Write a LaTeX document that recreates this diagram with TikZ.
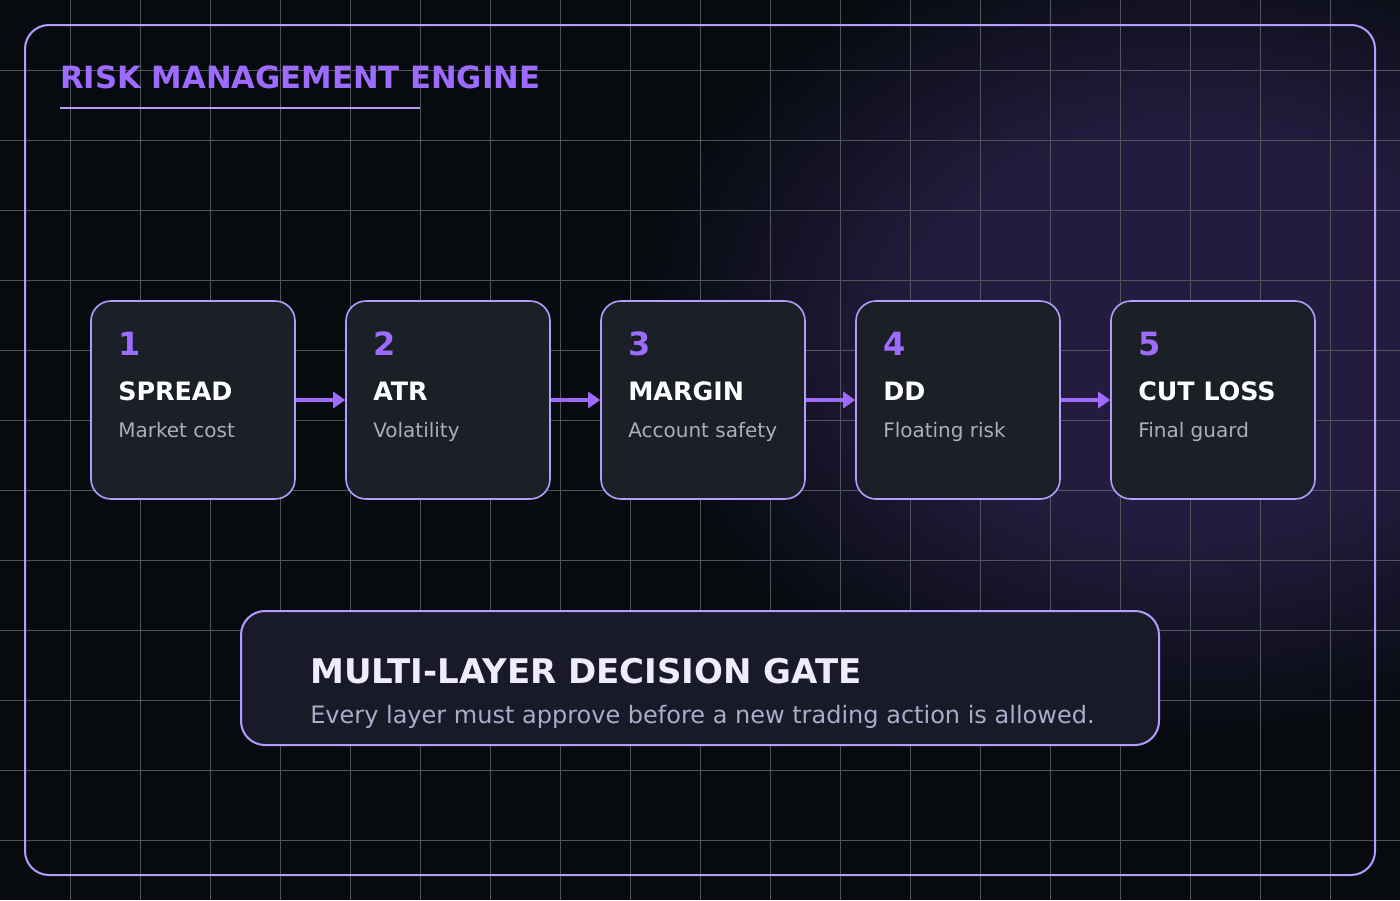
\documentclass[tikz,border=0pt]{standalone}
\usepackage{fontspec}
\setmainfont{DejaVu Sans}
\usetikzlibrary{positioning,arrows.meta}
\definecolor{bgc}{HTML}{070B10}
\definecolor{glowc}{HTML}{231C3E}
\definecolor{gridc}{HTML}{50545B}
\definecolor{framec}{HTML}{B69CFF}
\definecolor{accent}{HTML}{9D6BFF}
\definecolor{cardc}{HTML}{1B2026}
\definecolor{gatec}{HTML}{181A28}
\definecolor{subc}{HTML}{A9B0B8}
\pgfdeclareradialshading{halo}{\pgfpoint{0bp}{0bp}}{color(0bp)=(glowc); color(11bp)=(glowc); color(22bp)=(bgc); color(25bp)=(bgc); color(50bp)=(bgc)}
\tikzset{
  card/.style={draw=framec, line width=1.2pt, fill=cardc, rounded corners=15pt,
    minimum width=153pt, minimum height=148.5pt, inner sep=0pt},
  num/.style={text=accent, font=\bfseries\fontsize{24}{24}\selectfont, inner sep=0pt, anchor=base west},
  head/.style={text=white, font=\bfseries\fontsize{19}{19}\selectfont, inner sep=0pt, anchor=base west},
  sub/.style={text=subc, font=\fontsize{15}{15}\selectfont, inner sep=0pt, anchor=base west},
  flow/.style={draw=accent, line width=3pt, -{Triangle[length=9pt,width=12pt]}},
}
\begin{document}
\begin{tikzpicture}[x=0.75pt,y=-0.75pt]
	% fond et halo
	\fill[bgc] (0,0) rectangle (1400,900);
	\useasboundingbox (0,0) rectangle (1400,900);
	\begin{scope}
		\clip (0,0) rectangle (1400,900);
		\shade[shading=halo] (1190,330) ellipse (620 and 460);
	\end{scope}
	% grille
	\foreach \i in {1,...,19} \draw[gridc, line width=0.7pt] (70*\i,0) -- (70*\i,900);
	\foreach \j in {1,...,12} \draw[gridc, line width=0.7pt] (0,70*\j) -- (1400,70*\j);
	% cadre
	\draw[framec, line width=1.5pt, rounded corners=18pt] (25,25) rectangle (1375,875);
	\node[text=accent, font=\bfseries\fontsize{23}{23}\selectfont, inner sep=0pt, anchor=base west] (title) at (60,88) {RISK MANAGEMENT ENGINE};
	\draw[framec, line width=1.5pt] (60,108) -- (420,108);
	% les cinq couches
	\foreach \n/\x/\h/\s in {1/193/SPREAD/Market cost, 2/448/ATR/Volatility, 3/703/MARGIN/Account safety, 4/958/DD/Floating risk, 5/1213/CUT LOSS/Final guard}{
		\node[card] (c\n) at (\x,400) {};
		\node[num] (n\n) at (\x-75,355) {\n};
		\node[head] (h\n) at (\x-75,400) {\h};
		\node[sub] (s\n) at (\x-75,437) {\s};
	}
	\foreach \a/\b in {1/2,2/3,3/4,4/5} \draw[flow] (c\a.east) -- (c\b.west);
	% porte de decision
	\node[draw=framec, line width=1.5pt, fill=gatec, rounded corners=18pt, minimum width=688.5pt, minimum height=100.5pt] (gate) at (700,678) {};
	\node[text=white!80!framec, font=\bfseries\fontsize{25.5}{26}\selectfont, inner sep=0pt, anchor=base west] (gtitle) at (310,683) {MULTI-LAYER DECISION GATE};
	\node[text=subc!75!framec, font=\fontsize{18}{18}\selectfont, inner sep=0pt, anchor=base west] (gsub) at (310,723) {Every layer must approve before a new trading action is allowed.};
\end{tikzpicture}
\end{document}
